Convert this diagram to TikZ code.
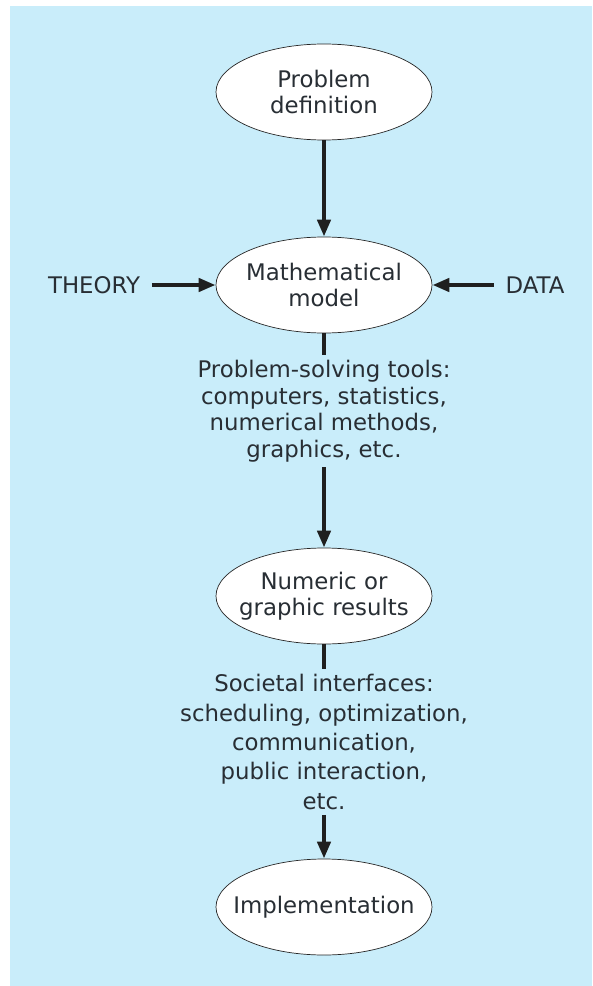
\documentclass[tikz,border=0pt]{standalone}
\usepackage{fontspec}
\setmainfont{DejaVu Sans}
\usetikzlibrary{arrows.meta, positioning, shapes.geometric}
\definecolor{bgblue}{RGB}{201,237,250}
\definecolor{inkgray}{RGB}{40,46,52}
\tikzset{
    every node/.style={font=\fontsize{19.5}{22.7}\selectfont, text=inkgray}
}
\begin{document}
\begin{tikzpicture}[
    x=0.3mm,y=-0.3mm,
    myell/.style={
        ellipse,
        draw=black!85,
        line width=0.6pt,
        fill=white,
        minimum width=64.8mm,
        minimum height=28.8mm,
        inner xsep=-5mm,
        inner ysep=0pt,
        align=center
    },
    mytext/.style={
        align=center,
        inner sep=1.5mm
    },
    myarrow/.style={-{Triangle[length=5.1mm,width=3.9mm]}, line width=1.4mm, draw=black!88},
    mystub/.style={line width=1.4mm, draw=black!88}
]

% background
\useasboundingbox (0,0) rectangle (592,986);
\fill[bgblue] (10,6) rectangle (592,986);

% ellipses
\node[myell] (prob)    at (324,92)  {Problem\\definition};
\node[myell] (model)   at (324,285) {Mathematical\\model};
\node[myell] (results) at (324,596) {Numeric or\\graphic results};
\node[myell] (impl)    at (324,907) {Implementation};

% side inputs
\node[mytext] (theory) at (94,285)  {THEORY};
\node[mytext] (data)   at (535,285) {DATA};

% texts between
\node[mytext] (tools)   at (324,411) {Problem-solving tools:\\computers, statistics,\\numerical methods,\\graphics, etc.};
\node[mytext, font=\fontsize{19.5}{25.1}\selectfont] (society) at (324,742)
    {Societal interfaces:\\scheduling, optimization,\\communication,\\public interaction,\\etc.};

% connectors
\draw[myarrow] (prob) -- (model);
\draw[myarrow, shorten <=2mm] (theory) -- (model);
\draw[myarrow, shorten <=2mm] (data) -- (model);
\draw[mystub] (model) -- (tools);
\draw[myarrow] (tools) -- (results);
\draw[mystub] (results) -- (society);
\draw[myarrow] (society) -- (impl);

\end{tikzpicture}
\end{document}
